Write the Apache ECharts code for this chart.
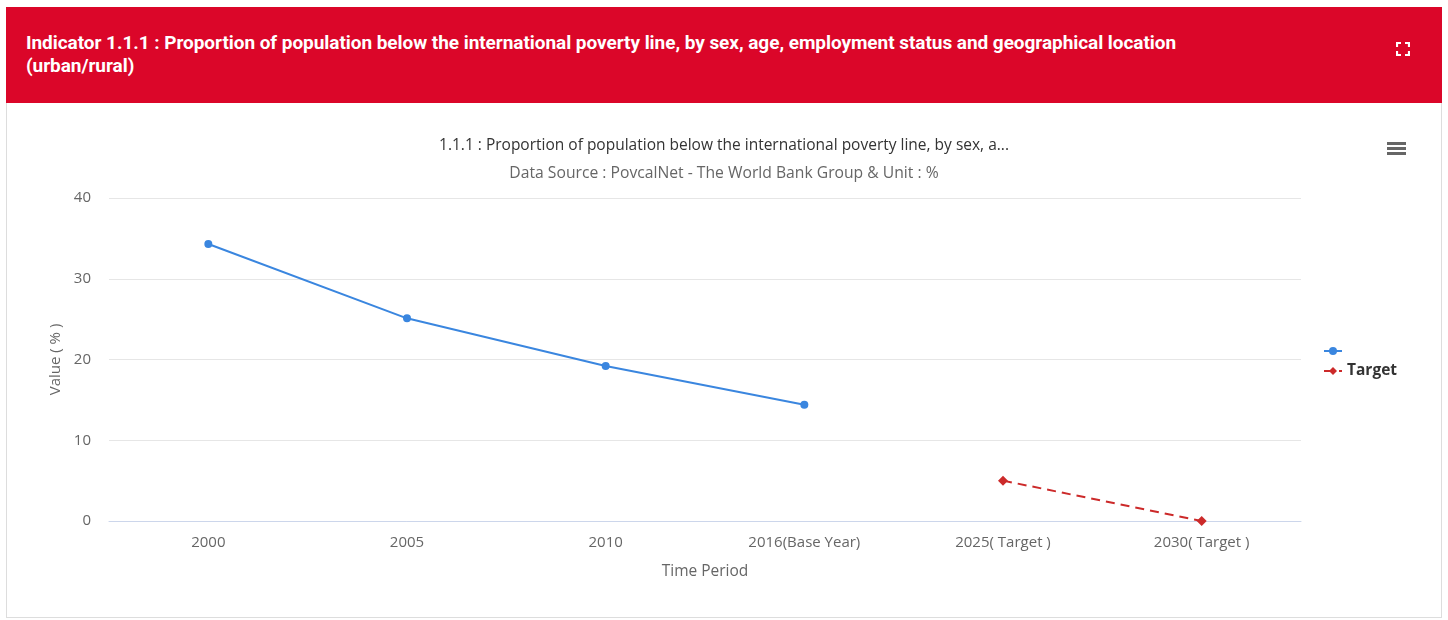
<!DOCTYPE html>
<html><head><meta charset="utf-8">
<script src="https://cdn.jsdelivr.net/npm/echarts@6/dist/echarts.min.js"></script>
<style>
html,body{margin:0;padding:0;background:#fff;width:1448px;height:620px;overflow:hidden;}
#hdr{position:absolute;left:6px;top:7px;width:1436px;height:96px;background:#db0629;color:#fff;font-family:Roboto,"Liberation Sans",sans-serif;font-weight:bold;font-size:19px;letter-spacing:-0.05px;}
#hdr .t{position:absolute;left:20px;top:24px;width:1180px;line-height:23px;}
#hdr .fs{position:absolute;left:1390px;top:35px;width:14px;height:14px;}
#chart{position:absolute;left:6px;top:103px;width:1434px;height:514px;border:1px solid #ddd;border-top:none;}
</style></head><body>
<div id="hdr"><div class="t">Indicator 1.1.1 : Proportion of population below the international poverty line, by sex, age, employment status and geographical location (urban/rural)</div>
<svg class="fs" viewBox="0 0 14 14"><path d="M1 5V1H5M9 1H13V5M13 9V13H9M5 13H1V9" stroke="#fff" stroke-width="2.2" fill="none"/></svg></div>
<div id="chart"></div>
<script>
var categories = ['2000','2005','2010','2016(Base Year)','2025( Target )','2030( Target )'];
var actualValues = [34.3, 25.1, 19.2, 14.4, null, null];
var targetValues = [null, null, null, null, 5, 0];
var yTicks = {min:0, max:40, interval:10};
var chart = echarts.init(document.getElementById('chart'));
var ff = '"Open Sans","Noto Sans",sans-serif';
chart.setOption({
  animation:false,
  textStyle:{fontFamily:ff},
  title:[
    {text:'1.1.1 : Proportion of population below the international poverty line, by sex, a...',left:'center',top:30,textStyle:{fontSize:15.5,fontWeight:'normal',color:'#333',fontFamily:ff}},
    {text:'Data Source : PovcalNet - The World Bank Group & Unit : %',left:'center',top:58,textStyle:{fontSize:15.7,fontWeight:'normal',color:'#666',fontFamily:ff}}
  ],
  grid:{left:102,right:140,top:95,bottom:96},
  legend:{orient:'vertical',left:1311,top:235,itemGap:4,itemWidth:18,itemHeight:10,
    textStyle:{fontSize:15.5,fontWeight:'bold',color:'#333',fontFamily:ff},
    data:[{name:' '},{name:'Target'}]},
  xAxis:{type:'category',data:categories,boundaryGap:true,
    name:'Time Period',nameLocation:'middle',nameGap:43,nameTextStyle:{fontSize:15.5,color:'#666'},
    axisLine:{lineStyle:{color:'#ccd6eb'}},axisTick:{show:false},
    axisLabel:{fontSize:15,color:'#666',margin:14}},
  yAxis:{type:'value',min:yTicks.min,max:yTicks.max,interval:yTicks.interval,
    name:'Value ( % )',nameLocation:'middle',nameGap:46,nameTextStyle:{fontSize:15,color:'#666'},
    axisLine:{show:false},axisTick:{show:false},
    axisLabel:{fontSize:15,color:'#666',margin:18},
    splitLine:{lineStyle:{color:'#e6e6e6'}}},
  series:[
    {name:' ',type:'line',data:actualValues,symbol:'circle',symbolSize:8,
      itemStyle:{color:'#3a86df'},lineStyle:{width:2,color:'#3a86df'}},
    {name:'Target',type:'line',data:targetValues,symbol:'diamond',symbolSize:10,
      itemStyle:{color:'#cc2a2a'},lineStyle:{width:2,type:[9,6],color:'#cc2a2a'}}
  ],
  graphic:[
    {type:'rect',left:1380,top:39,shape:{width:19,height:3},style:{fill:'#666'}},
    {type:'rect',left:1380,top:44,shape:{width:19,height:3},style:{fill:'#666'}},
    {type:'rect',left:1380,top:49,shape:{width:19,height:3},style:{fill:'#666'}}
  ]
});
</script></body></html>
